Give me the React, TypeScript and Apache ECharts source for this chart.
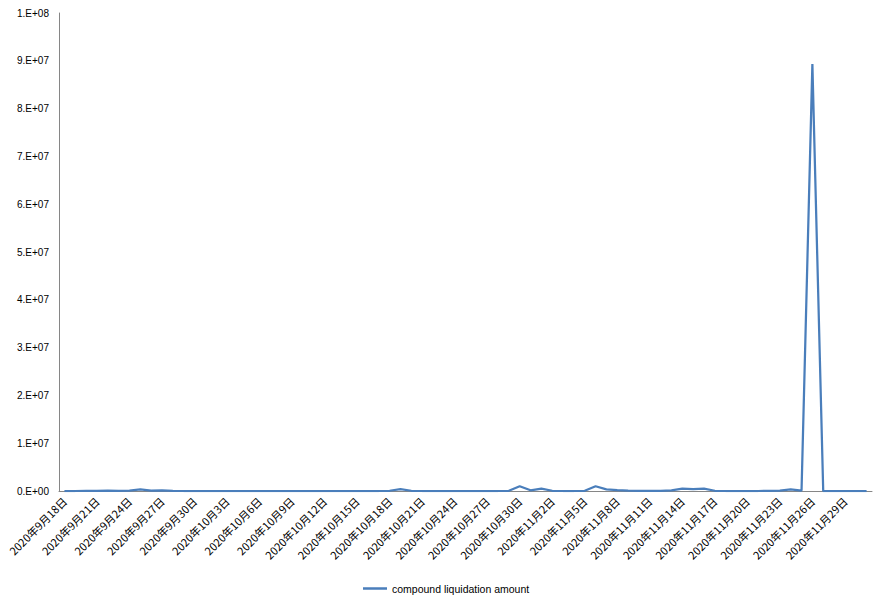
import React, { useEffect, useRef } from "react";
import * as echarts from "echarts";

// 75 daily categories: 2020-09-18 .. 2020-12-01
const startMonth = 9;
const startDay = 18;
const dayCount = 75;
const daysInMonth: Record<number, number> = { 9: 30, 10: 31, 11: 30, 12: 31 };

function buildCategories(): string[] {
  const out: string[] = [];
  let m = startMonth;
  let d = startDay;
  for (let i = 0; i < dayCount; i++) {
    out.push(`2020年${m}月${d}日`);
    d++;
    if (d > daysInMonth[m]) {
      d = 1;
      m++;
    }
  }
  return out;
}
const categories = buildCategories();

const seriesName = "compound liquidation amount";

// values
const liquidation = [
  0, 0, 50000, 50000, 100000, 50000, 100000, 350000, 100000, 150000,
  50000, 0, 0, 0, 0, 0, 0, 0, 0, 0,
  0, 0, 0, 0, 0, 0, 0, 0, 0, 0,
  50000, 400000, 50000, 0, 0, 0, 0, 0, 0, 0,
  0, 50000, 1000000, 150000, 500000, 50000, 0, 0, 50000, 1000000,
  350000, 200000, 100000, 50000, 50000, 50000, 150000, 500000, 400000, 500000,
  50000, 0, 0, 0, 0, 50000, 100000, 350000, 100000, 89300000,
  0, 0, 0, 0, 0,
];

const yMin = 0;
const yMax = 100000000;
const yInterval = 10000000;

function sciLabel(v: number): string {
  if (v === 0) return "0.E+00";
  const e = Math.floor(Math.log10(v) + 1e-9);
  const mant = Math.round(v / Math.pow(10, e));
  return `${mant}.E+${e < 10 ? "0" + e : e}`;
}

export default function App() {
  const ref = useRef<HTMLDivElement>(null);
  useEffect(() => {
    if (!ref.current) return;
    const chart = echarts.init(ref.current, undefined, { renderer: "svg" });
    chart.setOption({
      animation: false,
      backgroundColor: "#ffffff",
      grid: { left: 59, right: 17, top: 13, bottom: 110, containLabel: false },
      legend: {
        data: [{ name: seriesName, icon: "rect" }],
        left: 358,
        top: 578,
        itemWidth: 24,
        itemHeight: 2.5,
        itemGap: 2,
        textStyle: {
          fontFamily: "Liberation Sans, Arial, sans-serif",
          fontSize: 10.5,
          color: "#000000",
        },
      },
      xAxis: {
        type: "category",
        data: categories,
        boundaryGap: true,
        axisLine: { show: true, lineStyle: { color: "#868686", width: 1 } },
        axisTick: { show: false },
        axisLabel: {
          interval: 2,
          rotate: 45,
          margin: 8,
          fontFamily: "Noto Sans CJK SC, Liberation Sans, sans-serif",
          fontSize: 11,
          color: "#000000",
        },
        splitLine: { show: false },
      },
      yAxis: {
        type: "value",
        min: yMin,
        max: yMax,
        interval: yInterval,
        axisLine: { show: true, lineStyle: { color: "#868686", width: 1 } },
        axisTick: { show: false },
        splitLine: { show: false },
        axisLabel: {
          margin: 10,
          formatter: (v: number) => sciLabel(v),
          fontFamily: "Liberation Sans, Arial, sans-serif",
          fontSize: 10,
          color: "#000000",
        },
      },
      series: [
        {
          name: seriesName,
          type: "line",
          data: liquidation,
          showSymbol: false,
          symbol: "none",
          lineStyle: { color: "#4a7ebb", width: 2.25 },
          itemStyle: { color: "#4a7ebb" },
        },
      ],
    });
    return () => chart.dispose();
  }, []);
  return (
    <div
      ref={ref}
      style={{ position: "fixed", left: 0, top: 0, width: 889, height: 601, background: "#fff" }}
    />
  );
}
